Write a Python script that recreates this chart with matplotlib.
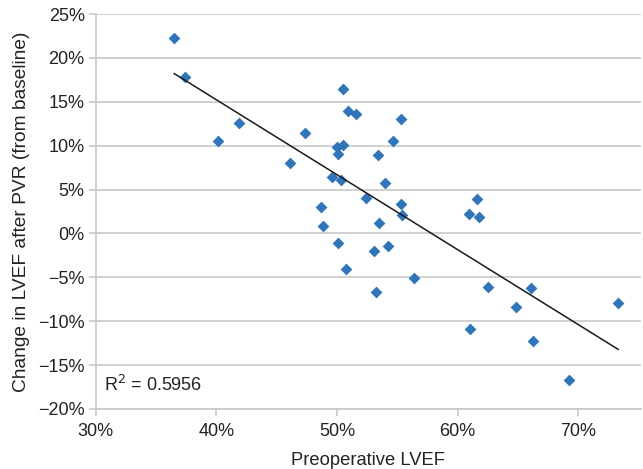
import matplotlib

matplotlib.use("Agg")
import matplotlib.pyplot as plt
import numpy as np
from matplotlib.ticker import FuncFormatter

# Preoperative LVEF (%) vs change in LVEF after PVR (%)
preop_lvef = [36.5, 37.4, 40.1, 41.9, 46.1, 47.3, 48.7, 48.8, 49.6, 50.0,
              50.5, 50.05, 50.3, 50.5, 50.9, 51.6, 52.4, 53.4, 53.5, 54.0,
              54.6, 55.3, 55.3, 55.4, 60.9, 61.6, 61.8, 50.1, 53.05, 54.2,
              50.7, 56.4, 53.2, 62.5, 66.1, 64.8, 73.3, 61.0, 66.2, 69.2]
delta_lvef = [22.3, 17.8, 10.55, 12.6, 8.0, 11.5, 3.0, 0.8, 6.4, 9.8,
              10.1, 9.0, 6.1, 16.5, 14.0, 13.6, 4.05, 8.9, 1.2, 5.8,
              10.5, 13.0, 3.3, 2.1, 2.2, 3.9, 1.9, -1.06, -1.97, -1.44,
              -4.05, -5.1, -6.7, -6.1, -6.2, -8.4, -7.9, -10.9, -12.2, -16.7]
r2_label = "R$^2$ = 0.5956"

x_ticks = [30, 40, 50, 60, 70]
y_ticks = [-20, -15, -10, -5, 0, 5, 10, 15, 20, 25]

plt.rcParams["font.family"] = ["Liberation Sans", "DejaVu Sans"]

x = np.array(preop_lvef)
y = np.array(delta_lvef)
slope, intercept = np.polyfit(x, y, 1)
x_fit = np.array([x.min(), x.max()])

fig = plt.figure(figsize=(6.43, 4.69), dpi=100)
ax = fig.add_axes([0.149, 0.128, 0.848, 0.842])

ax.grid(True, axis="y", color="#c8c8c8", lw=1.2)
ax.set_axisbelow(True)
ax.scatter(x, y, marker="D", s=36, color="#2f75bb", zorder=3, linewidths=0)
ax.plot(x_fit, slope * x_fit + intercept, color="#1a1a1a", lw=1.1, zorder=4)

ax.set_xlim(30, 75.2)
ax.set_ylim(-20, 25)
ax.set_xticks(x_ticks)
ax.set_yticks(y_ticks)
fmt = FuncFormatter(lambda v, _: f"{v:.0f}%".replace("-", "\u2212"))
ax.xaxis.set_major_formatter(fmt)
ax.yaxis.set_major_formatter(fmt)
ax.tick_params(axis="both", labelsize=13, colors="#c8c8c8", labelcolor="#222222",
               length=5, width=1.2)
ax.tick_params(axis="x", pad=5)
ax.tick_params(axis="y", pad=3)

for side in ("top", "right"):
    ax.spines[side].set_visible(False)
for side in ("left", "bottom"):
    ax.spines[side].set_color("#c8c8c8")
    ax.spines[side].set_linewidth(1.2)

ax.set_xlabel("Preoperative LVEF", fontsize=13.2, color="#222222", labelpad=9)
ax.set_ylabel("Change in LVEF after PVR (from baseline)", fontsize=13.8,
              color="#222222", labelpad=6)
ax.text(0.015, 0.045, r2_label, transform=ax.transAxes, fontsize=13,
        color="#222222")

fig.savefig("out.png", dpi=100)
plt.close(fig)
